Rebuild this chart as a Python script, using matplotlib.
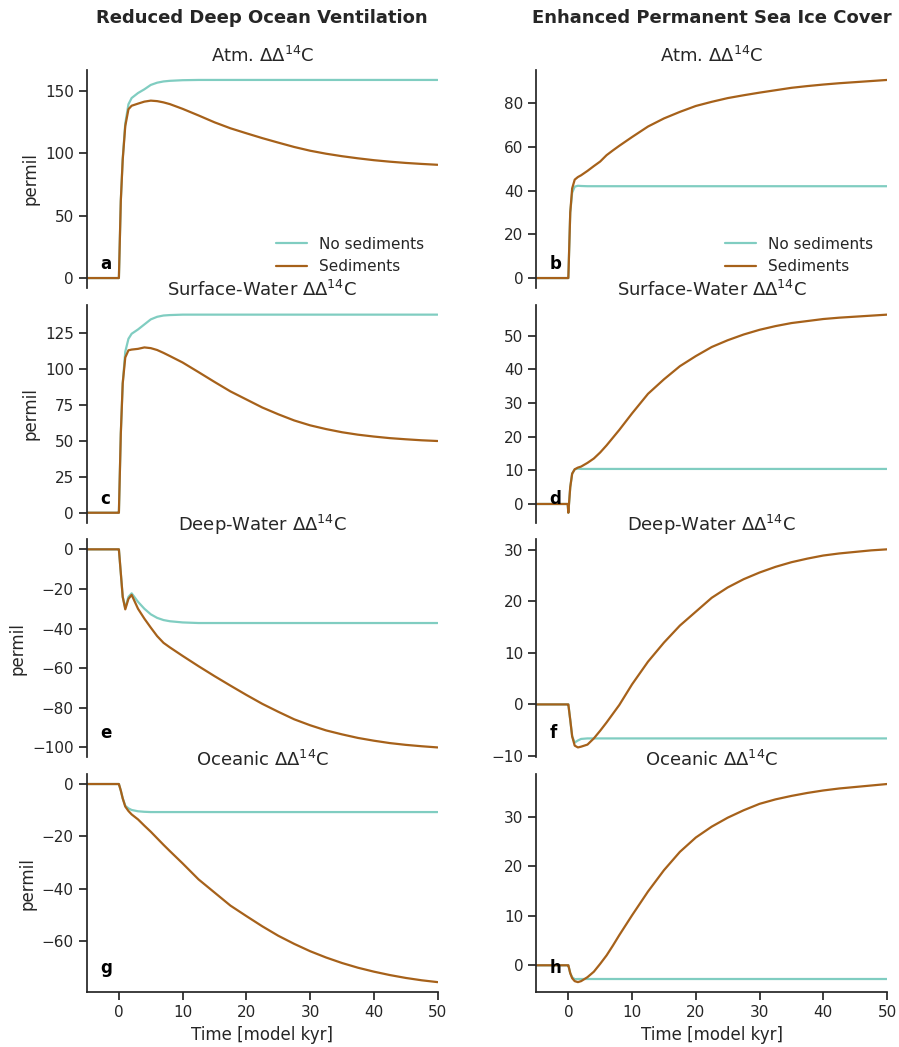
import numpy as np
import matplotlib
matplotlib.use("Agg")
import matplotlib.pyplot as plt
import seaborn as sns

# ─── Model output (ΔΔ14C, permil) on a common time axis ──────────
time_kyr = [-5, -0.1, 0, 0.3, 0.6, 1, 1.5, 2, 3, 4, 5, 6, 7, 8, 10, 12.5,
            15, 17.5, 20, 22.5, 25, 27.5, 30, 32.5, 35, 37.5, 40, 42.5,
            45, 47.5, 50]

# Reduced deep ocean ventilation
atm_vent_nosed = [0, 0, 0, 62, 96, 124, 139.5, 144.5, 148.5, 151.5, 155,
                  156.8, 157.8, 158.3, 158.8, 159, 159, 159, 159, 159, 159,
                  159, 159, 159, 159, 159, 159, 159, 159, 159, 159]
atm_vent_sed = [0, 0, 0, 62, 95, 122, 135.5, 138.3, 140, 141.6, 142.4, 142,
                141, 139.6, 135.8, 130.5, 125, 120.2, 116.2, 112.3, 108.7,
                105.2, 102.2, 99.8, 97.8, 96.1, 94.6, 93.4, 92.4, 91.6, 90.9]
surf_vent_nosed = [0, 0, 0, 55, 90, 112, 121, 124.5, 127.5, 131, 134.5, 136.3,
                   137.2, 137.5, 137.8, 137.8, 137.8, 137.8, 137.8, 137.8,
                   137.8, 137.8, 137.8, 137.8, 137.8, 137.8, 137.8, 137.8,
                   137.8, 137.8, 137.8]
surf_vent_sed = [0, 0, 0, 55, 90, 108, 113, 113.5, 114, 115, 114.5, 113.2,
                 111.2, 109, 104.5, 97.8, 91, 84.4, 78.8, 73.2, 68.5, 64.2,
                 60.8, 58.2, 56, 54.3, 53, 51.9, 51.1, 50.4, 49.9]
deep_vent_nosed = [0, 0, 0, -12, -24, -29.5, -24, -22.2, -26.5, -30, -32.8,
                   -34.6, -35.7, -36.3, -36.9, -37.2, -37.2, -37.2, -37.2,
                   -37.2, -37.2, -37.2, -37.2, -37.2, -37.2, -37.2, -37.2,
                   -37.2, -37.2, -37.2, -37.2]
deep_vent_sed = [0, 0, 0, -12, -24, -30.3, -25, -23, -30, -35, -39.5, -43.8,
                 -47.2, -49.5, -53.8, -59, -64, -68.8, -73.5, -78, -82,
                 -85.8, -88.8, -91.4, -93.4, -95.2, -96.6, -97.8, -98.7,
                 -99.4, -100]
ocn_vent_nosed = [0, 0, 0, -2.5, -5.5, -8.3, -9.3, -9.9, -10.4, -10.6, -10.7,
                  -10.7, -10.7, -10.7, -10.7, -10.7, -10.7, -10.7, -10.7,
                  -10.7, -10.7, -10.7, -10.7, -10.7, -10.7, -10.7, -10.7,
                  -10.7, -10.7, -10.7, -10.7]
ocn_vent_sed = [0, 0, 0, -2.5, -5.5, -8.6, -10.3, -11.6, -13.5, -15.9, -18.2,
                -20.7, -23.2, -25.6, -30.3, -36.4, -41.4, -46.4, -50.4, -54.3,
                -57.9, -61, -63.8, -66.2, -68.3, -70.1, -71.6, -72.9, -74,
                -74.9, -75.6]

# Enhanced permanent sea ice cover
atm_ice_nosed = [0, 0, 0, 30, 39, 41.8, 42.2, 42.1, 42, 42, 42, 42, 42, 42,
                 42, 42, 42, 42, 42, 42, 42, 42, 42, 42, 42, 42, 42, 42, 42,
                 42, 42]
atm_ice_sed = [0, 0, 0, 30, 41, 45, 46.2, 47, 49, 51.2, 53.3, 56.2, 58.4,
               60.5, 64.5, 69.3, 73, 76, 78.7, 80.6, 82.3, 83.6, 84.8, 85.9,
               87, 87.8, 88.5, 89.1, 89.6, 90.1, 90.6]
surf_ice_nosed = [0, 0, -2.6, 5, 9, 10.3, 10.5, 10.4, 10.4, 10.4, 10.4, 10.4,
                  10.4, 10.4, 10.4, 10.4, 10.4, 10.4, 10.4, 10.4, 10.4, 10.4,
                  10.4, 10.4, 10.4, 10.4, 10.4, 10.4, 10.4, 10.4, 10.4]
surf_ice_sed = [0, 0, -2.6, 5, 9, 10.3, 10.8, 11.1, 12.2, 13.5, 15.3, 17.4,
                19.7, 22, 26.9, 32.7, 37, 40.9, 43.9, 46.6, 48.6, 50.3, 51.7,
                52.8, 53.7, 54.3, 54.9, 55.3, 55.6, 55.9, 56.2]
deep_ice_nosed = [0, 0, 0, -3, -6.2, -7.4, -7.0, -6.7, -6.6, -6.6, -6.6,
                  -6.6, -6.6, -6.6, -6.6, -6.6, -6.6, -6.6, -6.6, -6.6, -6.6,
                  -6.6, -6.6, -6.6, -6.6, -6.6, -6.6, -6.6, -6.6, -6.6, -6.6]
deep_ice_sed = [0, 0, 0, -3, -6.2, -8.0, -8.35, -8.2, -7.8, -6.6, -5.1, -3.5,
                -1.8, -0.1, 3.9, 8.3, 12.0, 15.3, 18.0, 20.7, 22.7, 24.3,
                25.6, 26.7, 27.6, 28.3, 28.9, 29.3, 29.6, 29.9, 30.1]
ocn_ice_nosed = [0, 0, 0, -1.6, -2.4, -2.8, -2.77, -2.77, -2.77, -2.77,
                 -2.77, -2.77, -2.77, -2.77, -2.77, -2.77, -2.77, -2.77,
                 -2.77, -2.77, -2.77, -2.77, -2.77, -2.77, -2.77, -2.77,
                 -2.77, -2.77, -2.77, -2.77, -2.77]
ocn_ice_sed = [0, 0, 0, -1.6, -2.6, -3.2, -3.4, -3.2, -2.4, -1.3, 0.3, 2.0,
               4.0, 6.1, 10.1, 14.9, 19.2, 22.9, 25.8, 28, 29.8, 31.3, 32.6,
               33.5, 34.2, 34.8, 35.3, 35.7, 36.0, 36.3, 36.6]

col_titles = ["Reduced Deep Ocean Ventilation", "Enhanced Permanent Sea Ice Cover"]
row_titles = [r"Atm. $\Delta\Delta^{14}$C", r"Surface-Water $\Delta\Delta^{14}$C",
              r"Deep-Water $\Delta\Delta^{14}$C", r"Oceanic $\Delta\Delta^{14}$C"]
panel_letters = ["a", "b", "c", "d", "e", "f", "g", "h"]

series = [
    [(atm_vent_nosed, atm_vent_sed), (atm_ice_nosed, atm_ice_sed)],
    [(surf_vent_nosed, surf_vent_sed), (surf_ice_nosed, surf_ice_sed)],
    [(deep_vent_nosed, deep_vent_sed), (deep_ice_nosed, deep_ice_sed)],
    [(ocn_vent_nosed, ocn_vent_sed), (ocn_ice_nosed, ocn_ice_sed)],
]
yticks = [
    [[0, 50, 100, 150], [0, 20, 40, 60, 80]],
    [[0, 25, 50, 75, 100, 125], [0, 10, 20, 30, 40, 50]],
    [[-100, -80, -60, -40, -20, 0], [-10, 0, 10, 20, 30]],
    [[-60, -40, -20, 0], [0, 10, 20, 30]],
]

C_NOSED = "#80cdc1"
C_SED = "#a6611a"

# ─── Plot ───────────────────────────────────────────────────────
sns.set_theme(style="ticks", context="notebook")
plt.rcParams["font.family"] = ["DejaVu Sans"]

fig, axes = plt.subplots(4, 2, figsize=(8.99, 10.47), dpi=100, sharex=True)
fig.subplots_adjust(left=0.0968, right=0.9867, top=0.9331, bottom=0.0525,
                    wspace=0.282, hspace=0.077)

t = np.array(time_kyr)
for r in range(4):
    for c in range(2):
        ax = axes[r, c]
        nosed, sed = series[r][c]
        ax.plot(t, nosed, color=C_NOSED, lw=1.6, label="No sediments")
        ax.plot(t, sed, color=C_SED, lw=1.6, label="Sediments")
        ax.set_title(row_titles[r], fontsize=13)
        ax.set_yticks(yticks[r][c])
        ax.set_xlim(-5, 50)
        ax.text(0.037, 0.11, panel_letters[2 * r + c], transform=ax.transAxes,
                fontsize=12, fontweight="bold", color="black",
                ha="left", va="center")
        if c == 0:
            ax.set_ylabel("permil", fontsize=12)
        if r < 3:
            sns.despine(ax=ax, bottom=True)
            ax.tick_params(bottom=False, labelbottom=False)
        else:
            sns.despine(ax=ax)
            ax.set_xticks([0, 10, 20, 30, 40, 50])
            ax.set_xlabel("Time [model kyr]", fontsize=12)
        if r == 0:
            ax.legend(loc="lower right", frameon=False, fontsize=11)

for c in range(2):
    pos = axes[0, c].get_position()
    fig.text((pos.x0 + pos.x1) / 2, 1 - 18 / 1047, col_titles[c],
             ha="center", va="center", fontsize=13, fontweight="bold")

fig.savefig("out.png", dpi=100)
